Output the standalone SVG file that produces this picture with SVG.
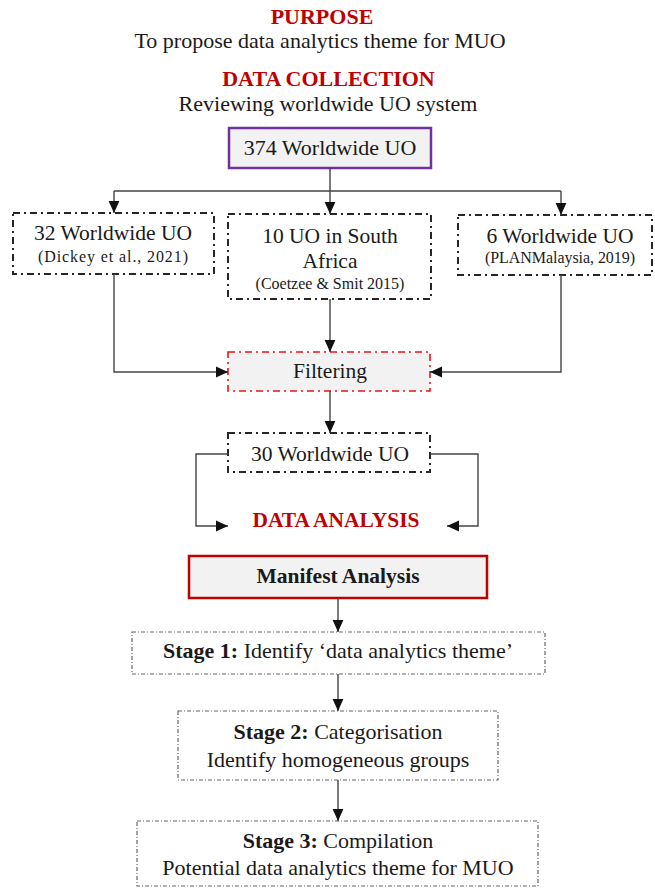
<svg xmlns="http://www.w3.org/2000/svg" width="655" height="888" viewBox="0 0 655 888">
<style>
text{font-family:"Liberation Serif","Times New Roman",serif;fill:#1a1a1a;text-anchor:middle}
.h{font-weight:bold;fill:#c00000;font-size:22px}
.t{font-size:22px}
.m{font-size:21.5px}
.c{font-size:16px}
.b{font-weight:bold}
.dd{fill:#fff;stroke:#262626;stroke-width:2;stroke-dasharray:7 4 2 4}
.st{fill:#fff;stroke:#666;stroke-width:1.2;stroke-dasharray:4 2 1 2}
.ln{fill:none;stroke:#444;stroke-width:1.4}
</style>
<defs>
<marker id="ah" markerUnits="userSpaceOnUse" markerWidth="12" markerHeight="12" viewBox="0 0 10 10" refX="10" refY="5" orient="auto">
<path d="M0,0.5 L10,5 L0,9.5 z" fill="#111"/>
</marker>
</defs>
<rect width="655" height="888" fill="#fff"/>

<g id="purpose">
<text class="h" x="322" y="23.5">PURPOSE</text>
<text class="t" x="320" y="48">To propose data analytics theme for MUO</text>
</g>
<g id="data-collection">
<text class="h" x="328.5" y="86">DATA COLLECTION</text>
<text class="t" x="328" y="111">Reviewing worldwide UO system</text>
</g>

<g id="n374">
<rect x="229" y="128" width="202" height="40" fill="#f2f2f2" stroke="#7030a0" stroke-width="2.5"/>
<text class="t" x="330" y="155">374 Worldwide UO</text>
</g>

<g id="n32">
<rect class="dd" x="13" y="213" width="201" height="61"/>
<text class="m" x="113" y="240">32 Worldwide UO</text>
<text class="c" x="113" y="262" textLength="150" lengthAdjust="spacing">(Dickey et al., 2021)</text>
</g>

<g id="n10">
<rect class="dd" x="228" y="214" width="203" height="85"/>
<text class="m" x="330" y="243">10 UO in South</text>
<text class="m" x="330" y="268">Africa</text>
<text class="c" x="330" y="289">(Coetzee &amp; Smit 2015)</text>
</g>

<g id="n6">
<rect class="dd" x="458" y="215" width="194" height="60"/>
<text class="m" x="560" y="243">6 Worldwide UO</text>
<text class="c" x="560" y="263" textLength="150" lengthAdjust="spacing">(PLANMalaysia, 2019)</text>
</g>

<g id="filtering">
<rect x="228" y="352" width="202" height="39" fill="#f2f2f2" stroke="#e8141c" stroke-width="1.6" stroke-dasharray="7 4 2 4"/>
<text class="m" x="330" y="378">Filtering</text>
</g>

<g id="n30">
<rect class="dd" x="228" y="433" width="202" height="39"/>
<text class="m" x="330" y="461">30 Worldwide UO</text>
</g>

<g id="data-analysis">
<text class="h" x="336" y="527" style="font-size:21px" textLength="167" lengthAdjust="spacingAndGlyphs">DATA ANALYSIS</text>
</g>

<g id="manifest">
<rect x="189" y="556" width="298" height="42" fill="#f2f2f2" stroke="#c00000" stroke-width="2.5"/>
<text class="m b" x="338" y="583">Manifest Analysis</text>
</g>

<g id="stage1">
<rect class="st" x="132" y="632" width="413" height="42"/>
<text class="t" x="338" y="658"><tspan class="b">Stage 1:</tspan> Identify ‘data analytics theme’</text>
</g>

<g id="stage2">
<rect class="st" x="178" y="711" width="320" height="69"/>
<text class="t" x="338" y="739"><tspan class="b">Stage 2:</tspan> Categorisation</text>
<text class="t" x="338" y="767">Identify homogeneous groups</text>
</g>

<g id="stage3">
<rect class="st" x="137" y="821" width="401" height="65"/>
<text class="t" x="338" y="848"><tspan class="b">Stage 3:</tspan> Compilation</text>
<text class="t" x="338" y="875">Potential data analytics theme for MUO</text>
</g>

<g id="connectors">
<path class="ln" d="M330,168 V191 M114,191 H561"/>
<path class="ln" d="M114,191 V213" marker-end="url(#ah)"/>
<path class="ln" d="M330,191 V214" marker-end="url(#ah)"/>
<path class="ln" d="M561,191 V215" marker-end="url(#ah)"/>
<path class="ln" d="M114,274 V372 H228" marker-end="url(#ah)"/>
<path class="ln" d="M330,299 V352" marker-end="url(#ah)"/>
<path class="ln" d="M561,275 V372 H430" marker-end="url(#ah)"/>
<path class="ln" d="M330,391 V433" marker-end="url(#ah)"/>
<path class="ln" d="M228,454 H196 V526 H228" marker-end="url(#ah)"/>
<path class="ln" d="M430,454 H478 V526 H447" marker-end="url(#ah)"/>
<path class="ln" d="M338,598 V632" marker-end="url(#ah)"/>
<path class="ln" d="M338,674 V711" marker-end="url(#ah)"/>
<path class="ln" d="M338,780 V821" marker-end="url(#ah)"/>
</g>
</svg>
